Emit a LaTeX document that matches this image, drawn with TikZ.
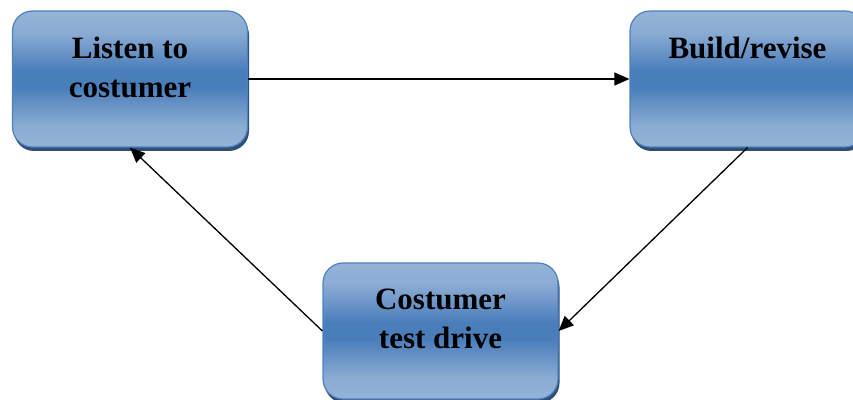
\documentclass[tikz,border=0pt]{standalone}
\usepackage{fontspec}
\setmainfont{Liberation Serif}
\usetikzlibrary{arrows.meta}
\definecolor{lightb}{HTML}{95B3D7}
\definecolor{midb}{HTML}{4A7EBB}
\definecolor{edgeb}{HTML}{4F81BD}
\definecolor{shadowb}{HTML}{2E4E78}
\pgfdeclareverticalshading{boxshade}{100bp}{color(0bp)=(lightb); color(25bp)=(lightb); color(33bp)=(lightb!85!midb); color(47bp)=(midb); color(53bp)=(midb); color(67bp)=(lightb!85!midb); color(75bp)=(lightb); color(100bp)=(lightb)}
\tikzset{
  procbox/.style={rectangle, rounded corners=20pt, minimum width=235pt, minimum height=136pt,
    draw=edgeb, line width=1.2pt, shading=boxshade,
    preaction={fill=shadowb, transform canvas={xshift=1.5pt,yshift=-4pt}}},
  boxtext/.style={font=\bfseries\fontsize{31}{39}\selectfont, align=center, anchor=north, inner sep=0pt},
  flow/.style={line width=1.3pt, -{Triangle[length=15pt,width=13pt]}}
}
\begin{document}
\begin{tikzpicture}[x=1pt,y=1pt]
\useasboundingbox (0,0) rectangle (853,399);
\clip (0,0) rectangle (853,399);
\node[procbox] (b1) at (130,320) {};
\node[procbox] (b2) at (747.5,320) {};
\node[procbox] (b3) at (440.5,68) {};
\node[boxtext] (t1) at ([yshift=-26pt]b1.north) {Listen to\\costumer};
\node[boxtext] (t2) at ([yshift=-26pt]b2.north) {Build/revise};
\node[boxtext] (t3) at ([yshift=-26pt]b3.north) {Costumer\\test drive};
\draw[flow] (b1.east) -- (b2.west);
\draw[flow] (b2.south) -- (b3.east);
\draw[flow] (b3.west) -- (b1.south);
\end{tikzpicture}
\end{document}
